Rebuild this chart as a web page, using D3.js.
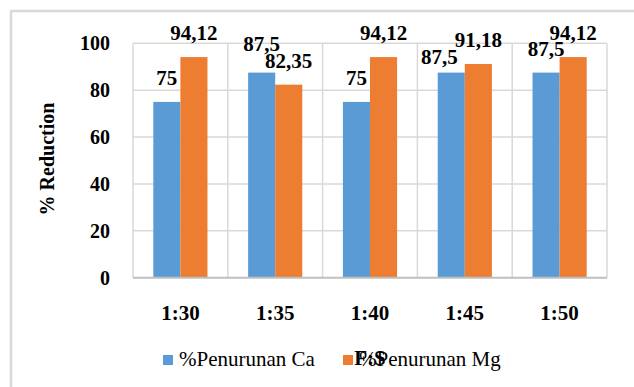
<!DOCTYPE html>
<html>
<head>
<meta charset="utf-8">
<script src="https://cdn.jsdelivr.net/npm/d3@7"></script>
<style>
  html, body { margin: 0; padding: 0; background: #fff; }
  svg { display: block; }
</style>
</head>
<body>
<svg></svg>
<script>
// data
var categories = ["1:30", "1:35", "1:40", "1:45", "1:50"];
var seriesNames = ["%Penurunan Ca", "%Penurunan Mg"];
var caValues = [75, 87.5, 75, 87.5, 87.5];
var mgValues = [94.12, 82.35, 94.12, 91.18, 94.12];
var caLabels = ["75", "87,5", "75", "87,5", "87,5"];
var mgLabels = ["94,12", "82,35", "94,12", "91,18", "94,12"];
var yTicks = [0, 20, 40, 60, 80, 100];

var colors = ["#5b9bd5", "#ed7d31"];
var width = 634, height = 387;
var margin = {left: 133, right: 27, top: 43.3, bottom: 109.3};

// a couple of labels sit off their usual spot in the original
var nudge = {"0-1": [0, -5], "0-3": [-12, 8]};

var rows = [];
categories.forEach(function(c, i){
  rows.push({cat: c, s: 0, v: caValues[i], label: caLabels[i], i: i});
  rows.push({cat: c, s: 1, v: mgValues[i], label: mgLabels[i], i: i});
});

var svg = d3.select("svg")
    .attr("width", width)
    .attr("height", height);

// outer chart border (right & bottom fall outside the picture)
svg.append("rect")
    .attr("x", 11)
    .attr("y", 11)
    .attr("width", width + 20)
    .attr("height", height + 20)
    .attr("fill", "#fff")
    .attr("stroke", "#d9d9d9")
    .attr("stroke-width", 2.5);

var x0 = d3.scaleBand()
    .domain(categories)
    .range([margin.left, width - margin.right])
    .padding(0);

var bw = x0.bandwidth();
var barW = bw / 3.5; // gap width 150%

var x1 = d3.scaleBand()
    .domain([0, 1])
    .range([bw / 2 - barW, bw / 2 + barW]);

var y = d3.scaleLinear()
    .domain([0, 100])
    .range([height - margin.bottom, margin.top]);

// horizontal gridlines
svg.append("g")
    .attr("stroke", "#d9d9d9")
    .attr("stroke-width", 1.5)
  .selectAll("line")
  .data(yTicks.filter(function(t){ return t > 0; }))
  .join("line")
    .attr("x1", margin.left)
    .attr("x2", width - margin.right)
    .attr("y1", function(d){ return y(d); })
    .attr("y2", function(d){ return y(d); });

// vertical gridlines at category boundaries
var bounds = categories.map(function(c){ return x0(c); }).concat([x0.range()[1]]);
svg.append("g")
    .attr("stroke", "#d9d9d9")
    .attr("stroke-width", 1.5)
  .selectAll("line")
  .data(bounds)
  .join("line")
    .attr("x1", function(d){ return d; })
    .attr("x2", function(d){ return d; })
    .attr("y1", y(100))
    .attr("y2", y(0));

// bars
svg.append("g")
  .selectAll("rect")
  .data(rows)
  .join("rect")
    .attr("x", function(d){ return x0(d.cat) + x1(d.s); })
    .attr("y", function(d){ return y(d.v); })
    .attr("width", x1.bandwidth())
    .attr("height", function(d){ return y(0) - y(d.v); })
    .attr("fill", function(d){ return colors[d.s]; });

// x axis line
svg.append("line")
    .attr("x1", margin.left)
    .attr("x2", width - margin.right)
    .attr("y1", y(0))
    .attr("y2", y(0))
    .attr("stroke", "#bfbfbf")
    .attr("stroke-width", 2);

var serif = "Liberation Serif, Tinos, DejaVu Serif, Times New Roman, serif";

// y tick labels
svg.append("g")
    .style("font-family", serif)
    .attr("font-weight", "bold")
    .attr("font-size", 20)
    .attr("text-anchor", "end")
  .selectAll("text")
  .data(yTicks)
  .join("text")
    .attr("x", 110)
    .attr("y", function(d){ return y(d); })
    .attr("dy", "0.35em")
    .text(function(d){ return d; });

// category labels
svg.append("g")
    .style("font-family", serif)
    .attr("font-weight", "bold")
    .attr("font-size", 21)
    .attr("text-anchor", "middle")
  .selectAll("text")
  .data(categories)
  .join("text")
    .attr("x", function(d){ return x0(d) + bw / 2; })
    .attr("y", 320)
    .text(function(d){ return d; });

// y axis title
svg.append("text")
    .attr("transform", "translate(54,159) rotate(-90)")
    .style("font-family", serif)
    .attr("font-weight", "bold")
    .attr("font-size", 20)
    .attr("text-anchor", "middle")
    .text("% Reduction");

// data labels
svg.append("g")
    .style("font-family", serif)
    .attr("font-weight", "bold")
    .attr("font-size", 21)
    .attr("text-anchor", "middle")
  .selectAll("text")
  .data(rows)
  .join("text")
    .attr("x", function(d){
      var n = nudge[d.s + "-" + d.i] || [0, 0];
      return x0(d.cat) + x1(d.s) + x1.bandwidth() / 2 + n[0];
    })
    .attr("y", function(d){
      var n = nudge[d.s + "-" + d.i] || [0, 0];
      return y(d.v) - 17 + n[1];
    })
    .text(function(d){ return d.label; });

// legend
var legendX = [163, 343];
var legend = svg.append("g")
    .style("font-family", serif)
    .attr("font-size", 21)
  .selectAll("g")
  .data(seriesNames)
  .join("g")
    .attr("transform", function(d, i){ return "translate(" + legendX[i] + ",355)"; });

legend.append("rect")
    .attr("width", 10)
    .attr("height", 10)
    .attr("fill", function(d, i){ return colors[i]; });

legend.append("text")
    .attr("x", 16)
    .attr("y", 11)
    .text(function(d){ return d; });

// x axis title (overlaps the legend in the original)
svg.append("text")
    .attr("x", x0.range()[0] + (x0.range()[1] - x0.range()[0]) / 2)
    .attr("y", 365)
    .style("font-family", serif)
    .attr("font-weight", "bold")
    .attr("font-size", 21)
    .attr("text-anchor", "middle")
    .text("F:S");
</script>
</body>
</html>
